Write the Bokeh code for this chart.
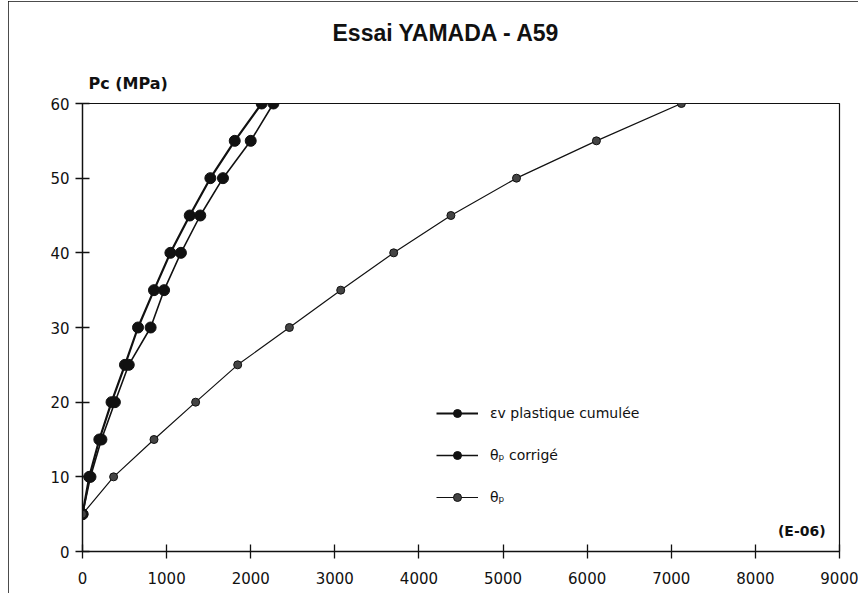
from bokeh.plotting import figure
from bokeh.models import Range1d, FixedTicker, Label, Legend, LegendItem, Title
from bokeh.embed import file_html
from bokeh.resources import INLINE

pc = [5, 10, 15, 20, 25, 30, 35, 40, 45, 50, 55, 60]
ev_plastique = [0, 80, 200, 345, 505, 660, 850, 1045, 1275, 1520, 1810, 2130]
theta_corrige = [0, 95, 225, 385, 550, 810, 970, 1170, 1400, 1670, 2000, 2270]
theta_p = [0, 370, 850, 1345, 1845, 2460, 3070, 3700, 4380, 5160, 6110, 7120]

x_ticks = [0, 1000, 2000, 3000, 4000, 5000, 6000, 7000, 8000, 9000]
y_ticks = [0, 10, 20, 30, 40, 50, 60]

FONT = "DejaVu Sans"

p = figure(frame_width=757, frame_height=448, output_backend="svg", toolbar_location=None,
           x_range=Range1d(0, 9000), y_range=Range1d(0, 60), title=None,
           min_border_left=74, min_border_right=19, min_border_top=102, min_border_bottom=42)
p.styles = {"outline": "2px solid #111", "outline-offset": "-2px",
            "margin-left": "8px", "margin-top": "1px"}
p.background_fill_color = "white"
p.border_fill_color = "white"
p.outline_line_color = "#111"
p.outline_line_width = 1.2
p.xgrid.visible = False
p.ygrid.visible = False

for ax in (p.xaxis[0], p.yaxis[0]):
    ax.axis_line_color = "#111"
    ax.axis_line_width = 1.3
    ax.major_tick_line_color = "#111"
    ax.major_tick_line_width = 1.3
    ax.major_tick_in = 7
    ax.major_tick_out = 7
    ax.minor_tick_line_color = None
    ax.major_label_text_font = FONT
    ax.major_label_text_font_size = "15px"
    ax.major_label_text_color = "#111"
p.xaxis.ticker = FixedTicker(ticks=x_ticks)
p.yaxis.ticker = FixedTicker(ticks=y_ticks)
p.xaxis.major_label_standoff = 13
p.yaxis.major_label_standoff = 6

l1 = p.line(ev_plastique, pc, line_color="#111", line_width=2.2)
c1 = p.scatter(ev_plastique, pc, marker="circle", size=11, fill_color="#111", line_color="#111")
l2 = p.line(theta_corrige, pc, line_color="#111", line_width=1.6)
c2 = p.scatter(theta_corrige, pc, marker="circle", size=11, fill_color="#111", line_color="#111")
l3 = p.line(theta_p, pc, line_color="#111", line_width=1.2)
c3 = p.scatter(theta_p, pc, marker="circle", size=8, fill_color="#444", line_color="#111")

legend = Legend(items=[
    LegendItem(label="εv plastique cumulée", renderers=[l1, c1]),
    LegendItem(label="θₚ corrigé", renderers=[l2, c2]),
    LegendItem(label="θₚ", renderers=[l3, c3]),
], location=(354, 44))
legend.border_line_color = None
legend.background_fill_alpha = 0
legend.padding = 0
legend.margin = 0
legend.spacing = 22
legend.glyph_width = 42
legend.glyph_height = 20
legend.label_height = 20
legend.label_standoff = 12
legend.label_text_font = FONT
legend.label_text_font_size = "14px"
legend.label_text_color = "#111"
legend.label_text_baseline = "middle"
p.add_layout(legend, "center")

p.add_layout(Title(text="Pc (MPa)", align="left", offset=6, standoff=21,
                   text_font=FONT, text_font_style="bold", text_font_size="16px",
                   text_color="#111"), "above")
p.add_layout(Title(text="Essai YAMADA - A59", align="left", offset=250, standoff=32,
                   text_font="Liberation Sans", text_font_style="bold", text_font_size="23px",
                   text_color="#111"), "above")
p.add_layout(Label(x=8835, y=2.8, text="(E-06)", text_font=FONT, text_font_style="bold",
                   text_font_size="14px", text_align="right", text_baseline="middle",
                   text_color="#111"))

open("out.html", "w").write(file_html(p, INLINE))
